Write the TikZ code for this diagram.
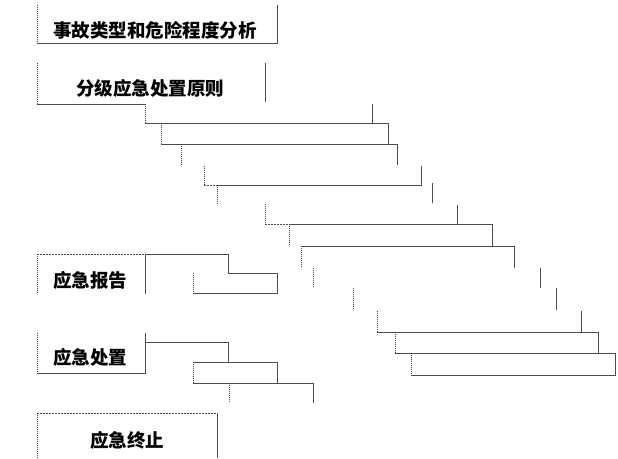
\documentclass[tikz,border=0pt]{standalone}
\usepackage{fontspec}
\newfontfamily\cjk{Noto Sans CJK SC}
\begin{document}
\begin{tikzpicture}[x=1pt,y=-1pt,
  sl/.style={draw=black!70,line width=0.9pt},
  dl/.style={draw=black!75,line width=1pt,densely dotted},
  dsh/.style={draw=black!70,line width=0.9pt,dashed,dash pattern=on 2pt off 1pt},
  lbl/.style={font=\cjk\bfseries\fontsize{18.5}{21}\selectfont,inner sep=0pt,text=black}]
\useasboundingbox[fill=white] (0,0) rectangle (618,458);
% box 1
\draw[dl] (37,5)--(37,43);
\draw[sl] (37,43)--(277,43)--(277,5);
\node[lbl] (t1) at (155,30) {事故类型和危险程度分析};
% box 2
\draw[dl] (37,63)--(37,104);
\draw[sl] (265,63)--(265,102);
\draw[sl] (37,104)--(145,104);
\node[lbl] (t2) at (150,88) {分级应急处置原则};
\draw[dl] (145,104)--(145,123);
\draw[sl] (145,123)--(388,123);
\draw[sl] (372,104)--(372,123);
\draw[dl] (161,123)--(161,144);
\draw[sl] (388,123)--(388,144);
\draw[sl] (161,144)--(397,144)--(397,165);
\draw[dl] (181,144)--(181,165);
\draw[dl] (204,166)--(204,185);
\draw[dsh] (204,185)--(217,185);
\draw[sl] (217,185)--(421,185)--(421,166);
\draw[dl] (217,185)--(217,205);
\draw[sl] (432,183)--(432,203);
\draw[dl] (265,204)--(265,224);
\draw[dsh] (265,224)--(289,224);
\draw[sl] (289,224)--(492,224)--(492,246);
\draw[sl] (457,205)--(457,224);
\draw[dl] (289,224)--(289,246);
\draw[sl] (301,246)--(514,246)--(514,268);
\draw[dl] (301,246)--(301,268);
\draw[dl] (313,268)--(313,288);
\draw[sl] (540,268)--(540,288);
\draw[dl] (353,288)--(353,310);
\draw[sl] (556,288)--(556,310);
\draw[dl] (377,311)--(377,332);
\draw[sl] (581,311)--(581,332);
\draw[sl] (377,332)--(598,332)--(598,353);
\draw[dl] (395,332)--(395,353);
\draw[sl] (395,353)--(615,353)--(615,375)--(411,375);
\draw[dl] (411,353)--(411,375);
% box 应急报告
\draw[dsh] (37,254)--(145,254);
\draw[dl] (37,254)--(37,294);
\draw[sl] (145,294)--(145,254)--(228,254)--(228,273)--(277,273)--(277,293)--(193,293);
\draw[dl] (193,273)--(193,293);
\node[lbl] (t3) at (90,280) {应急报告};
% box 应急处置
\draw[dl] (37,333)--(37,373);
\draw[sl] (37,373)--(145,373)--(145,333);
\draw[sl] (145,342)--(228,342)--(228,362);
\draw[dl] (193,362)--(193,383);
\draw[sl] (193,362)--(277,362)--(277,383);
\draw[sl] (193,383)--(313,383)--(313,403);
\draw[dl] (229,383)--(229,403);
\node[lbl] (t4) at (90,357) {应急处置};
% box 应急终止
\draw[dsh] (37,413)--(217,413);
\draw[dl] (37,413)--(37,458);
\draw[sl] (217,413)--(217,458);
\node[lbl] (t5) at (127,440) {应急终止};
\end{tikzpicture}
\end{document}
